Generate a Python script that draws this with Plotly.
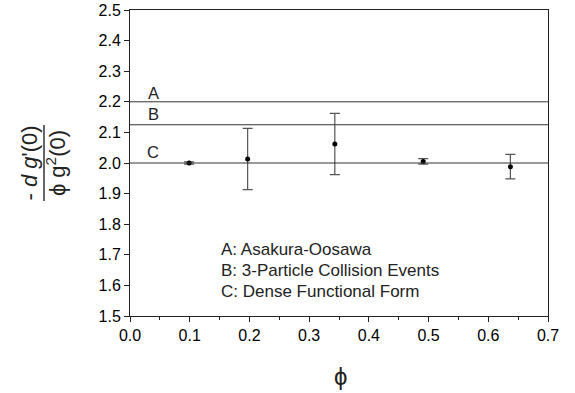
import plotly.graph_objects as go

# Data
phi = [0.099, 0.197, 0.343, 0.491, 0.637]
ratio = [2.000, 2.013, 2.062, 2.005, 1.988]
err = [0.004, 0.100, 0.100, 0.009, 0.040]

theory_labels = ["A", "B", "C"]
theory_values = [2.2, 2.125, 2.0]
label_offsets = [0.03, 0.034, 0.037]
legend_lines = ["A: Asakura-Oosawa", "B: 3-Particle Collision Events", "C: Dense Functional Form"]

W, H = 575, 393
L, R, T, B = 130, 27, 10, 77
pw, ph = W - L - R, H - T - B

def px(x):
    return (x - L) / pw

def py(y):
    return (H - B - y) / ph

FONT = "Liberation Sans, Arial, sans-serif"

fig = go.Figure()
fig.add_trace(go.Scatter(
    x=phi, y=ratio, mode="markers",
    marker=dict(color="black", size=5),
    error_y=dict(type="data", array=err, visible=True, color="#555555", thickness=1.2, width=5),
    showlegend=False,
))

shapes = []
annotations = []
for lab, val, off in zip(theory_labels, theory_values, label_offsets):
    shapes.append(dict(type="line", xref="paper", x0=0, x1=1, yref="y", y0=val, y1=val,
                       line=dict(color="#333333", width=1)))
    annotations.append(dict(x=0.039, y=val + off, xref="x", yref="y", text=lab, showarrow=False,
                            font=dict(family=FONT, size=16.5, color="#222222")))

for i, t in enumerate(legend_lines):
    annotations.append(dict(x=px(219), y=py(249 + i * 21), xref="paper", yref="paper", text=t,
                            showarrow=False, xanchor="left", yanchor="middle",
                            font=dict(family=FONT, size=17, color="#222222")))

# x-axis title
annotations.append(dict(x=px(340), y=py(376), xref="paper", yref="paper", text="\u03d5",
                        showarrow=False, xanchor="center", yanchor="middle",
                        font=dict(family=FONT, size=24, color="#222222")))

# fraction bar of the y-axis title
shapes.append(dict(type="line", xref="paper", yref="paper", x0=px(44), x1=px(44),
                   y0=py(125), y1=py(201), line=dict(color="#333333", width=1.5)))

fig.update_layout(
    width=W, height=H,
    margin=dict(l=L, r=R, t=T, b=B, autoexpand=False),
    paper_bgcolor="white", plot_bgcolor="white",
    shapes=shapes, annotations=annotations,
    font=dict(family=FONT, size=16, color="black"),
    xaxis=dict(range=[0, 0.7], dtick=0.1, tickformat=".1f", showgrid=False, zeroline=False,
               showline=True, linecolor="#222222", linewidth=1, mirror=True,
               ticks="outside", ticklen=5, tickcolor="#222222", automargin=False,
               minor=dict(dtick=0.05, ticks="outside", ticklen=3, tickcolor="#222222")),
    yaxis=dict(range=[1.5, 2.5], dtick=0.1, tickformat=".1f", showgrid=False, zeroline=False,
               showline=True, linecolor="#222222", linewidth=1, mirror=True,
               ticks="outside", ticklen=5, tickcolor="#222222", automargin=False,
               title=dict(text="- <i>d g</i>'(0)<br>\u03d5 g<sup>2</sup>(0)",
                          font=dict(family=FONT, size=22, color="#222222"), standoff=26)),
)

fig.write_html("out.html")
